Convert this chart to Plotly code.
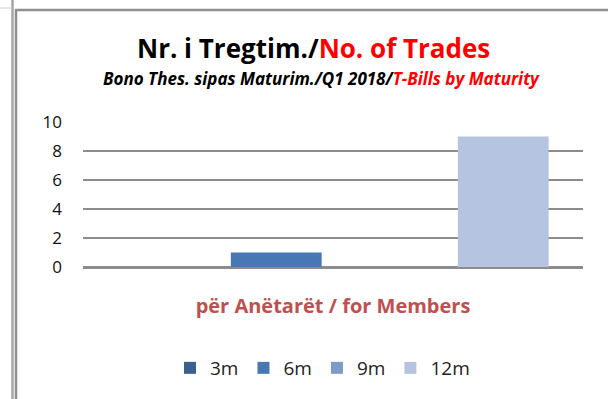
import plotly.graph_objects as go

# Data
category = ["për Anëtarët / for Members"]
maturities = ["3m", "6m", "9m", "12m"]
trades = [0, 1, 0, 9]
colors = ["#3A6090", "#4778B4", "#7D9BC9", "#B5C5E1"]
y_ticks = [0, 2, 4, 6, 8, 10]

W, H = 608, 399
L, R, T, B = 83, 25, 122, 132
PW, PH = W - L - R, H - T - B


def px(x):
    return (x - L) / PW


def py(y):
    return (H - B - y) / PH


fig = go.Figure()
for name, val, col in zip(maturities, trades, colors):
    fig.add_trace(go.Bar(x=category, y=[val], name=name, marker_color=col,
                         marker_line_width=0))

font = "'Open Sans', Lato, sans-serif"

fig.update_layout(
    width=W, height=H,
    margin=dict(l=L, r=R, t=T, b=B, pad=0),
    paper_bgcolor="white", plot_bgcolor="white",
    barmode="group", bargap=0.092, bargroupgap=0.2,
    font=dict(family=font, color="#000"),
    showlegend=True,
    legend=dict(orientation="h", x=px(170), xanchor="left", y=py(368),
                yanchor="middle", font=dict(size=19, color="#222"),
                itemwidth=30, bgcolor="rgba(0,0,0,0)"),
    xaxis=dict(showgrid=False, showline=False, zeroline=False, ticks="",
               tickfont=dict(size=20, color="#C0504D", family=font, weight="bold"),
               ticklabelstandoff=25, fixedrange=True),
    yaxis=dict(range=[0, 10], tickvals=y_ticks, showgrid=True,
               gridcolor="#8C8C8C", gridwidth=1.5, zeroline=True,
               zerolinecolor="#8C8C8C", zerolinewidth=2.5, showline=False,
               ticks="", tickfont=dict(size=17, color="#111"),
               ticklabelstandoff=20, fixedrange=True),
)

# Title and subtitle
fig.add_annotation(
    text="<b>Nr. i Tregtim./<span style='color:#FF0000'>No. of Trades</span></b>",
    xref="paper", yref="paper", x=px(313), y=py(48), xanchor="center",
    yanchor="middle", showarrow=False, font=dict(size=26, color="#000", family=font))
fig.add_annotation(
    text="<b><i>Bono Thes. sipas Maturim./Q1 2018/<span style='color:#FF0000'>T-Bills by Maturity</span></i></b>",
    xref="paper", yref="paper", x=px(321), y=py(78), xanchor="center",
    yanchor="middle", showarrow=False, font=dict(size=17, color="#000", family=font))

# Frame lines
fig.add_shape(type="line", xref="paper", yref="paper", x0=px(12.5), x1=px(12.5),
              y0=py(0), y1=py(H + 5), line=dict(color="#A6A6A6", width=2.5))
fig.add_shape(type="line", xref="paper", yref="paper", x0=px(0), x1=px(12),
              y0=py(8), y1=py(8), line=dict(color="#D0D0D0", width=1))
fig.add_shape(type="rect", xref="paper", yref="paper", x0=px(16), x1=px(W + 10),
              y0=py(10), y1=py(H + 10), line=dict(color="#8F8F8F", width=2.5),
              fillcolor="rgba(0,0,0,0)")

fig.write_html("out.html")
